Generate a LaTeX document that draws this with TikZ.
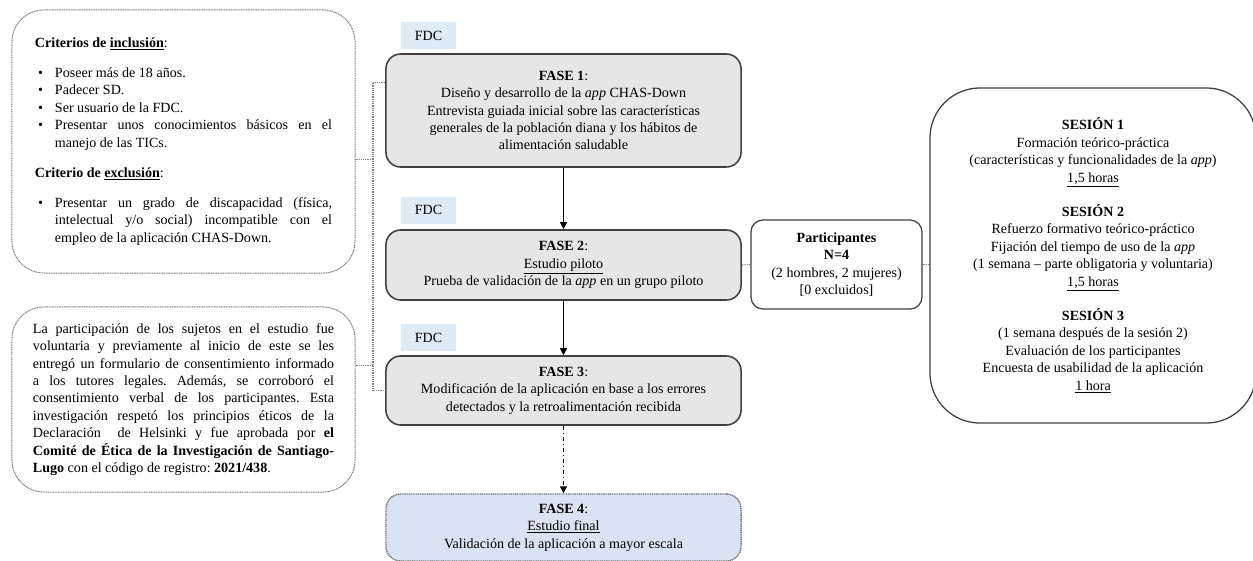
\documentclass[tikz,border=0pt]{standalone}
\usepackage{fontspec}
\setmainfont{Liberation Serif}
\usepackage{enumitem}
\usepackage{tikz}
\usetikzlibrary{arrows.meta}

\definecolor{faseGray}{HTML}{E7E6E6}
\definecolor{fdcBlue}{HTML}{DEEBF7}
\definecolor{finBlue}{HTML}{DAE3F3}

\setlist[itemize]{label=\textbullet,leftmargin=0.5cm,labelsep=0.3cm,topsep=9pt,partopsep=0pt,itemsep=0pt,parsep=0pt}
\frenchspacing

\begin{document}
\begin{tikzpicture}[x=0.025cm, y=-0.025cm,
		every node/.style={font=\fontsize{10}{12.4}\selectfont, inner sep=0pt},
		fase/.style={draw=black!75, line width=1.1pt, rounded corners=0.37cm, fill=faseGray, minimum width=8.875cm, align=center},
		fdc/.style={fill=fdcBlue, minimum width=1.375cm, minimum height=0.675cm},
		nota/.style={draw=black!55, dash pattern=on 0.7pt off 0.5pt, line width=0.7pt, rounded corners=0.8cm, minimum width=8.575cm, align=justify},
		caja/.style={draw=black!75, line width=0.9pt, fill=white, align=center},
		conn/.style={draw=black!50, dash pattern=on 0.7pt off 0.6pt, line width=0.8pt},
		flecha/.style={draw=black, line width=0.8pt, -{Triangle[length=5pt,width=5pt]}}]
			\useasboundingbox (0,0) rectangle (1253,560);

			\node[nota, minimum height=6.575cm, text width=7.425cm] (incl) at (183.5,141.5) {\hyphenpenalty=10000
				\textbf{Criterios de \underline{inclusión}}:
				\begin{itemize}
					\item Poseer más de 18 años.
					\item Padecer SD.
					\item Ser usuario de la FDC.
					\item Presentar unos conocimientos básicos en el\linebreak manejo de las TICs.
				\end{itemize}
				\textbf{Criterio de \underline{exclusión}}:
				\begin{itemize}
					\item Presentar un grado de discapacidad (física,\linebreak intelectual y/o social) incompatible con el\linebreak empleo de la aplicación CHAS-Down.
				\end{itemize}};
			\node[nota, minimum height=4.625cm, text width=7.525cm] (etica) at (183.5,399.5) {\hyphenpenalty=10000
				La participación de los sujetos en el estudio fue\linebreak
				voluntaria y previamente al inicio de este se les\linebreak
				entregó un formulario de consentimiento informado\linebreak
				a los tutores legales. Además, se corroboró el\linebreak
				consentimiento verbal de los participantes. Esta\linebreak
				investigación respetó los principios éticos de la\linebreak
				Declaración\ \ de Helsinki y fue aprobada por \textbf{el}\linebreak
				\textbf{Comité de Ética de la Investigación de Santiago-}\linebreak
				\textbf{Lugo} con el código de registro: \textbf{2021/438}.};

			\node[fdc] (fdc1) at (428.5,35.5) {FDC};
			\node[fdc] (fdc2) at (428.5,210) {FDC};
			\node[fdc] (fdc3) at (428.5,337.5) {FDC};

			\node[fase, minimum height=2.825cm] (fase1) at (563.5,110.5) {\textbf{FASE 1}:\\Diseño y desarrollo de la \textit{app} CHAS-Down\\Entrevista guiada inicial sobre las características\\generales de la población diana y los hábitos de\\alimentación saludable};
			\node[fase, minimum height=1.75cm] (fase2) at (563.5,265) {\textbf{FASE 2}:\\\underline{Estudio piloto}\\Prueba de validación de la \textit{app} en un grupo piloto};
			\node[fase, minimum height=1.725cm] (fase3) at (563.5,390.5) {\textbf{FASE 3}:\\Modificación de la aplicación en base a los errores\\detectados y la retroalimentación recibida};
			\node[fase, draw=black!55, dash pattern=on 0.8pt off 0.5pt, line width=1pt, fill=finBlue, minimum height=1.675cm] (fase4) at (563.5,527.5) {\textbf{FASE 4}:\\\underline{Estudio final}\\Validación de la aplicación a mayor escala};

			\node[caja, rounded corners=0.3cm, minimum width=4.275cm, minimum height=2.225cm] (part) at (836.5,264.5) {\textbf{Participantes}\\\textbf{N=4}\\(2 hombres, 2 mujeres)\\{}[0 excluidos]};
			\node[caja, rounded corners=1.25cm, minimum width=8.15cm, minimum height=8.375cm] (ses) at (1093,255.5) {\textbf{SESIÓN 1}\\Formación teórico-práctica\\(características y funcionalidades de la \textit{app})\\\underline{1,5 horas}\\[12pt]\textbf{SESIÓN 2}\\Refuerzo formativo teórico-práctico\\Fijación del tiempo de uso de la \textit{app}\\(1 semana – parte obligatoria y voluntaria)\\\underline{1,5 horas}\\[12pt]\textbf{SESIÓN 3}\\(1 semana después de la sesión 2)\\Evaluación de los participantes\\Encuesta de usabilidad de la aplicación\\\underline{1 hora}};

			\coordinate (bus) at (373,0);
			\draw[conn] ([yshift=0.71cm]fase1.west) -| (bus |- fase3.west) -- (fase3.west);
			\draw[conn] ([yshift=-0.46cm]incl.east) -- ++(18,0);
			\draw[conn] ([yshift=0.86cm]etica.east) -- ++(18,0);
			\draw[conn] (fase2.east) -- (part.west);
			\draw[conn] (part.east) -- (part.east -| ses.west);

			\path[flecha] (fase1) edge (fase2);
			\path[flecha] (fase2) edge (fase3);
			\path[flecha, dash dot] (fase3) edge (fase4);
		\end{tikzpicture}
\end{document}
